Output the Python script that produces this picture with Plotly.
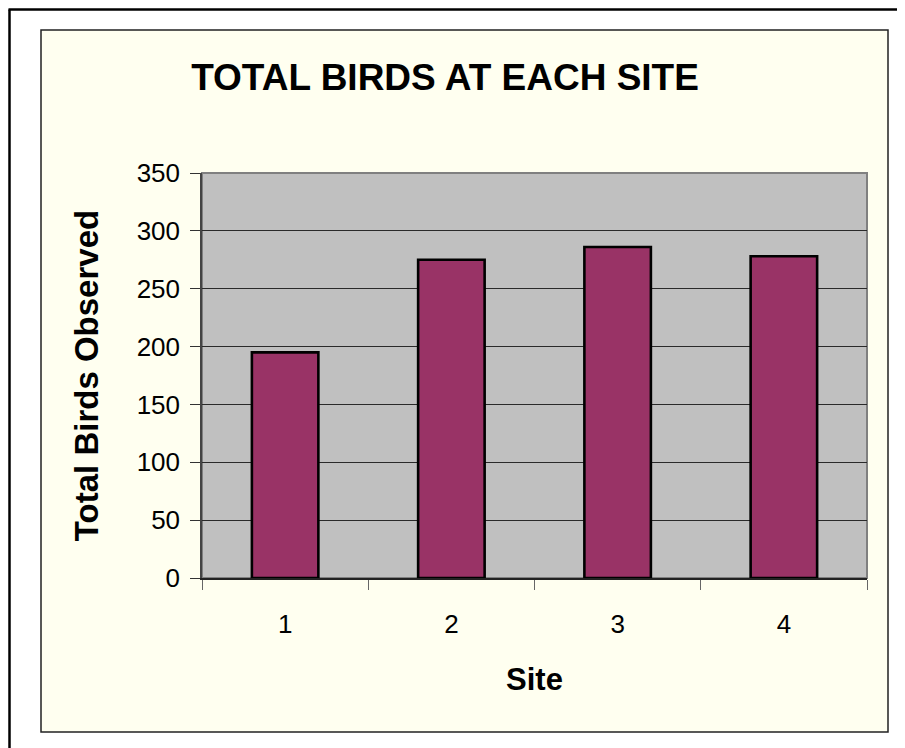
import plotly.graph_objects as go

sites = ["1", "2", "3", "4"]
total_birds = [195, 275, 286, 278]
y_ticks = [0, 50, 100, 150, 200, 250, 300, 350]

# the page puts the figure 8 px in from the top-left corner
OFF = 8
W, H = 905 - OFF, 748 - OFF
L, R, T, B = 202 - OFF, 867 - OFF, 173 - OFF, 578 - OFF


def fx(px):
    return (px - OFF - L) / (R - L)


def fy(py):
    return (B - (py - OFF)) / (B - T)


FONT = "Arial, Liberation Sans, sans-serif"

fig = go.Figure(
    go.Bar(
        x=sites,
        y=total_birds,
        width=0.4,
        marker=dict(color="#993366", line=dict(color="black", width=2.6)),
    )
)

fig.update_layout(
    width=W,
    height=H,
    margin=dict(l=L, r=W - R, t=T, b=H - B),
    paper_bgcolor="white",
    plot_bgcolor="rgba(0,0,0,0)",
    showlegend=False,
    font=dict(family=FONT, color="black"),
    title=dict(
        text="<b>TOTAL BIRDS AT EACH SITE</b>",
        font=dict(family=FONT, size=37, color="black"),
        x=(445 - OFF) / W,
        xanchor="center",
        xref="container",
        y=1 - (77 - OFF) / H,
        yanchor="middle",
        yref="container",
    ),
    shapes=[
        dict(type="line", xref="paper", yref="paper", layer="below",
             x0=fx(9.5), y0=fy(9.5), x1=fx(9.5), y1=fy(760),
             line=dict(color="black", width=2.5)),
        dict(type="line", xref="paper", yref="paper", layer="below",
             x0=fx(8.5), y0=fy(9.5), x1=fx(920), y1=fy(9.5),
             line=dict(color="black", width=2.5)),
        dict(type="rect", xref="paper", yref="paper", layer="below",
             x0=fx(41), y0=fy(30), x1=fx(888), y1=fy(732),
             line=dict(color="#222222", width=1.5), fillcolor="#FFFFF0"),
        dict(type="rect", xref="paper", yref="paper", layer="below",
             x0=0, y0=0, x1=1, y1=1,
             line=dict(color="#808080", width=2), fillcolor="#C0C0C0"),
    ],
)

fig.update_yaxes(
    range=[0, 350],
    tickvals=y_ticks,
    ticktext=[str(v) for v in y_ticks],
    showgrid=True,
    gridcolor="#2a2a2a",
    gridwidth=1.2,
    zeroline=False,
    showline=True,
    linecolor="#444444",
    linewidth=1.5,
    ticks="outside",
    ticklen=10,
    tickcolor="#333333",
    ticklabelstandoff=5,
    tickfont=dict(family=FONT, size=26, color="black"),
    title=dict(text="<b>Total Birds Observed</b>",
               font=dict(family=FONT, size=33, color="black"), standoff=28),
    automargin=False,
    fixedrange=True,
)

fig.update_xaxes(
    type="category",
    showgrid=False,
    showline=True,
    linecolor="#222222",
    linewidth=2,
    ticks="outside",
    tickson="boundaries",
    ticklen=10,
    tickcolor="#666666",
    ticklabelstandoff=22,
    tickfont=dict(family=FONT, size=26, color="black"),
    title=dict(text="<b>Site</b>",
               font=dict(family=FONT, size=31, color="black"), standoff=30),
    automargin=False,
    fixedrange=True,
)

fig.write_html(
    "out.html",
    post_script="document.documentElement.style.overflow='hidden';"
                "document.body.style.overflow='hidden';",
)
